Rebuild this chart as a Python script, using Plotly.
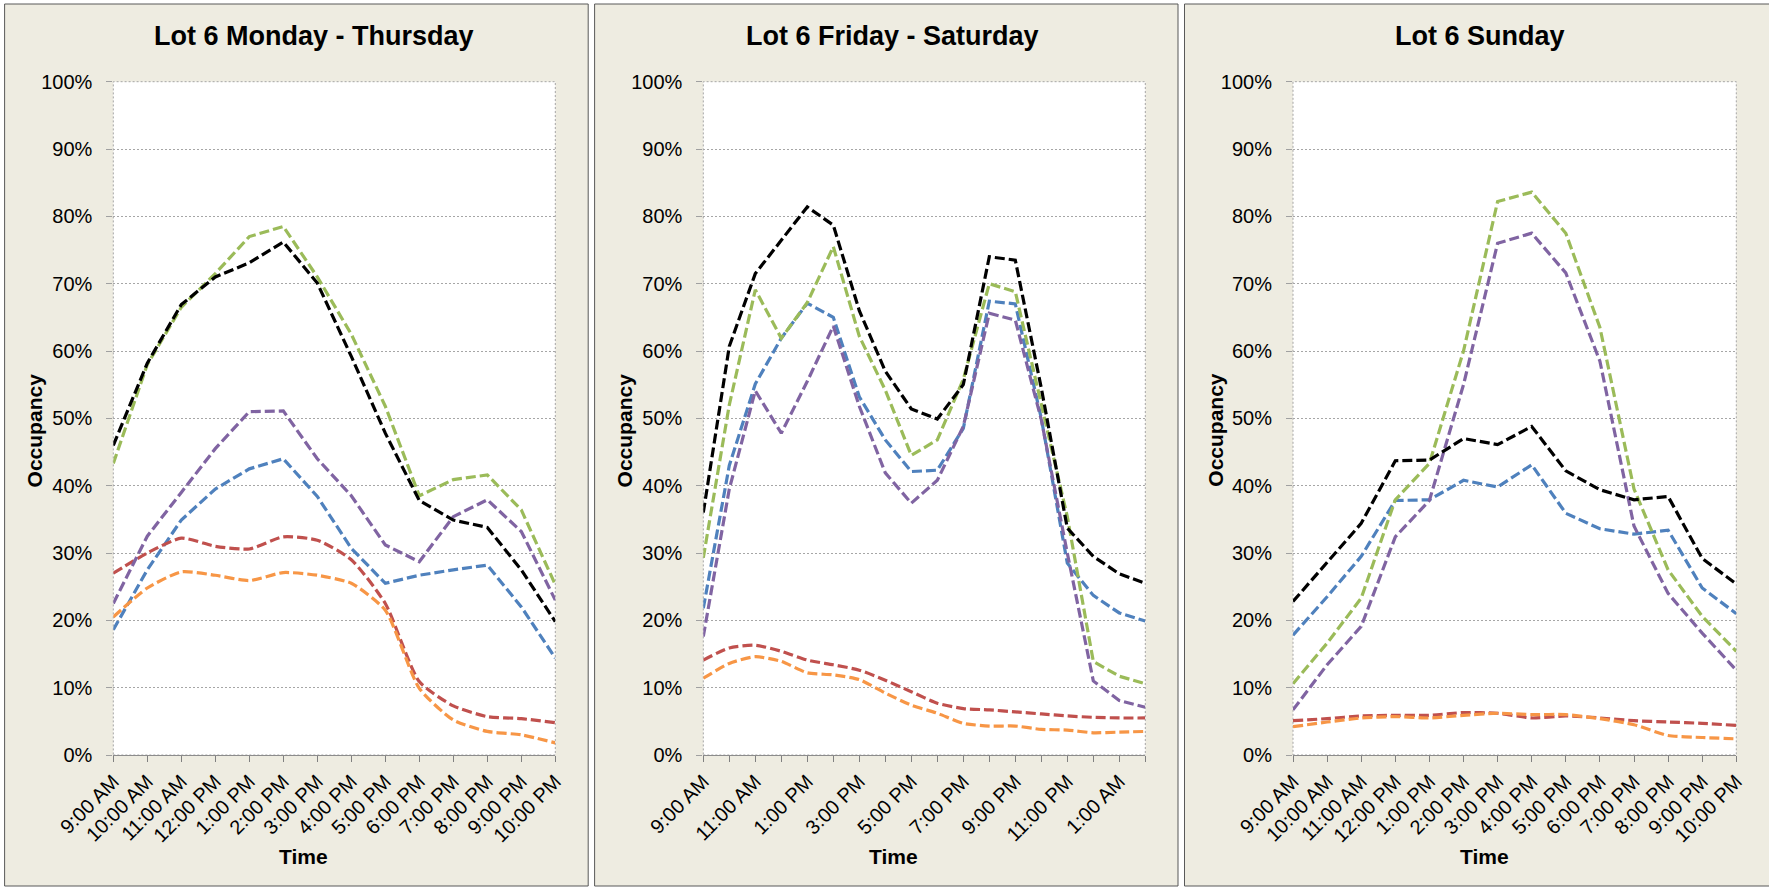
import plotly.graph_objects as go

W, H = 1769, 887

# ---------------- data ----------------
times_week = ["9:00 AM", "10:00 AM", "11:00 AM", "12:00 PM", "1:00 PM", "2:00 PM", "3:00 PM",
              "4:00 PM", "5:00 PM", "6:00 PM", "7:00 PM", "8:00 PM", "9:00 PM", "10:00 PM"]
times_fri_sat = times_week + ["11:00 PM", "12:00 AM", "1:00 AM", "2:00 AM"]
times_sun = list(times_week)

panel_titles = ["Lot 6 Monday - Thursday", "Lot 6 Friday - Saturday", "Lot 6 Sunday"]
y_ticks = [0, 10, 20, 30, 40, 50, 60, 70, 80, 90, 100]
y_ticktext = ["0%", "10%", "20%", "30%", "40%", "50%", "60%", "70%", "80%", "90%", "100%"]

# Monday - Thursday (occupancy %)
mt_blue = [18.6, 27.5, 34.9, 39.5, 42.5, 44.0, 38.4, 30.7, 25.5, 26.7, 27.5, 28.2, 22.0, 14.4]
mt_red = [27.0, 30.0, 32.2, 31.0, 30.6, 32.4, 31.9, 29.0, 22.5, 10.9, 7.3, 5.7, 5.4, 4.8]
mt_green = [43.3, 58.0, 66.5, 71.5, 77.0, 78.5, 71.0, 62.5, 51.8, 38.5, 40.9, 41.6, 36.4, 25.3]
mt_purple = [22.5, 32.5, 39.0, 45.5, 51.0, 51.1, 44.0, 38.5, 31.2, 28.7, 35.4, 37.9, 33.2, 23.0]
mt_orange = [20.5, 24.8, 27.2, 26.7, 25.9, 27.1, 26.7, 25.5, 21.5, 9.9, 5.2, 3.5, 3.0, 1.8]
mt_black = [46.0, 58.2, 66.9, 71.0, 73.1, 76.2, 70.1, 59.2, 47.8, 37.8, 34.9, 33.8, 27.5, 19.8]

# Friday - Saturday
fs_blue = [21.8, 43.0, 55.1, 61.9, 67.1, 65.0, 53.2, 46.8, 42.1, 42.3, 48.5, 67.4, 67.0, 50.0, 28.5, 23.7, 21.1, 19.9]
fs_red = [14.1, 15.9, 16.3, 15.4, 14.1, 13.4, 12.6, 11.1, 9.4, 7.7, 6.9, 6.7, 6.4, 6.1, 5.8, 5.6, 5.5, 5.5]
fs_green = [29.3, 52.0, 69.1, 61.9, 67.2, 75.5, 62.2, 54.2, 44.5, 46.8, 55.8, 70.0, 68.8, 52.0, 35.4, 13.9, 11.7, 10.6]
fs_purple = [17.6, 39.5, 54.1, 47.8, 55.5, 63.7, 51.8, 41.9, 37.4, 40.8, 48.8, 65.6, 64.6, 49.8, 30.0, 11.0, 8.1, 7.1]
fs_orange = [11.4, 13.6, 14.6, 13.9, 12.2, 11.9, 11.2, 9.2, 7.4, 6.2, 4.7, 4.3, 4.3, 3.8, 3.7, 3.3, 3.4, 3.5]
fs_black = [36.0, 60.7, 71.5, 76.4, 81.4, 78.7, 66.0, 57.0, 51.4, 49.9, 55.0, 74.0, 73.5, 54.5, 33.7, 29.5, 26.9, 25.5]

# Sunday
su_blue = [17.8, 23.5, 29.5, 37.8, 37.9, 40.8, 39.8, 43.1, 35.9, 33.6, 32.8, 33.4, 24.8, 21.0]
su_red = [5.1, 5.4, 5.8, 5.9, 5.9, 6.3, 6.2, 5.5, 5.8, 5.5, 5.1, 4.9, 4.7, 4.4]
su_green = [10.6, 16.6, 23.3, 37.9, 43.3, 60.0, 82.2, 83.6, 77.5, 63.5, 39.5, 27.5, 20.6, 15.4]
su_purple = [6.7, 13.4, 19.1, 32.4, 37.8, 55.0, 76.0, 77.5, 71.6, 58.5, 34.0, 24.0, 18.1, 12.6]
su_orange = [4.2, 4.9, 5.5, 5.7, 5.5, 5.9, 6.2, 6.0, 6.0, 5.4, 4.5, 2.9, 2.6, 2.4]
su_black = [22.8, 28.6, 34.4, 43.7, 43.8, 47.0, 46.1, 48.8, 42.2, 39.4, 37.9, 38.4, 29.2, 25.4]

# ---------------- style ----------------
FONT = "Liberation Sans, Arial, sans-serif"
COLORS = {"blue": "#4F81BD", "red": "#C0504D", "green": "#9BBB59",
          "purple": "#8064A2", "orange": "#F79646", "black": "#000000"}
SMOOTH = {"red", "orange"}
PANEL_BG = "#EEECE1"

panels = [
    dict(times=times_week, label_every=1,
         series={"blue": mt_blue, "red": mt_red, "green": mt_green,
                 "purple": mt_purple, "orange": mt_orange, "black": mt_black}),
    dict(times=times_fri_sat, label_every=2,
         series={"blue": fs_blue, "red": fs_red, "green": fs_green,
                 "purple": fs_purple, "orange": fs_orange, "black": fs_black}),
    dict(times=times_sun, label_every=1,
         series={"blue": su_blue, "red": su_red, "green": su_green,
                 "purple": su_purple, "orange": su_orange, "black": su_black}),
]

# pixel layout (x0, x1 of plot area; panel rectangle)
plot_x = [(113.3, 555.3), (703.3, 1145.3), (1293.0, 1736.3)]
panel_x = [(4.6, 588.2), (594.6, 1178.0), (1184.5, 1772.0)]
plot_top, plot_bot = 81.7, 755.0
panel_top, panel_bot = 4.0, 886.0
title_x = [314.2, 892.0, 1480.0]
time_x = [303.9, 893.9, 1484.3]
occ_x = [34.4, 624.4, 1214.7]


def px(x):
    return x / W


def py(y):
    return 1 - y / H


fig = go.Figure()
shapes = []
annotations = []

for i, p in enumerate(panels):
    sfx = "" if i == 0 else str(i + 1)
    xa, ya = "x" + sfx, "y" + sfx
    for name in ["blue", "red", "green", "purple", "orange", "black"]:
        fig.add_trace(go.Scatter(
            x=p["times"], y=p["series"][name], mode="lines",
            line=dict(color=COLORS[name], width=3.2, dash="10px,4px",
                      shape="spline" if name in SMOOTH else "linear",
                      smoothing=0.6),
            xaxis=xa, yaxis=ya, showlegend=False, hoverinfo="x+y"))

    ticktext = [t if k % p["label_every"] == 0 else "" for k, t in enumerate(p["times"])]
    fig.update_layout(**{
        "xaxis" + sfx: dict(
            domain=[px(plot_x[i][0]), px(plot_x[i][1])], anchor=ya,
            type="category", range=[0, len(p["times"]) - 1],
            tickmode="array", tickvals=p["times"], ticktext=ticktext,
            tickangle=-45, ticks="outside", ticklen=6, tickcolor="#808080",
            showline=True, linecolor="#8C8C8C", linewidth=1,
            showgrid=False, zeroline=False, automargin=False,
            tickfont=dict(family=FONT, size=20, color="#000000"),
            fixedrange=True),
        "yaxis" + sfx: dict(
            domain=[py(plot_bot), py(plot_top)], anchor=xa,
            range=[0, 100], tickmode="array", tickvals=y_ticks, ticktext=y_ticktext,
            ticks="outside", ticklen=6, tickcolor="#A0A0A0",
            ticklabelstandoff=10, automargin=False,
            showgrid=True, gridcolor="#A6A6A6", griddash="2px,2px", gridwidth=1,
            zeroline=False, showline=False,
            tickfont=dict(family=FONT, size=20, color="#000000"),
            fixedrange=True),
    })

    # panel background with border
    shapes.append(dict(type="rect", xref="paper", yref="paper", layer="below",
                       x0=px(panel_x[i][0]), x1=px(panel_x[i][1]),
                       y0=py(panel_bot), y1=py(panel_top),
                       fillcolor=PANEL_BG, line=dict(color="#595959", width=1)))
    # plot area (white, dotted border)
    shapes.append(dict(type="rect", xref="paper", yref="paper", layer="below",
                       x0=px(plot_x[i][0]), x1=px(plot_x[i][1]),
                       y0=py(plot_bot), y1=py(plot_top),
                       fillcolor="#FFFFFF", line=dict(color="#A6A6A6", width=1, dash="2px,2px")))

    annotations.append(dict(text="<b>" + panel_titles[i] + "</b>", xref="paper", yref="paper",
                            x=px(title_x[i]), y=py(36), xanchor="center", yanchor="middle",
                            showarrow=False, font=dict(family=FONT, size=27, color="#000000")))
    annotations.append(dict(text="<b>Time</b>", xref="paper", yref="paper",
                            x=px(time_x[i]), y=py(856), xanchor="center", yanchor="middle",
                            showarrow=False, font=dict(family=FONT, size=21, color="#000000")))
    annotations.append(dict(text="<b>Occupancy</b>", xref="paper", yref="paper",
                            x=px(occ_x[i]), y=py(430), xanchor="center", yanchor="middle",
                            textangle=-90, showarrow=False,
                            font=dict(family=FONT, size=21, color="#000000")))

fig.update_layout(
    width=W, height=H,
    margin=dict(l=0, r=0, t=0, b=0, pad=0, autoexpand=False),
    paper_bgcolor="#FFFFFF", plot_bgcolor="rgba(0,0,0,0)",
    shapes=shapes, annotations=annotations,
    showlegend=False,
    font=dict(family=FONT, color="#000000"),
)

fig.write_html("out.html", config={"displayModeBar": False},
               post_script="document.body.style.margin='0';document.body.style.overflow='hidden';")
